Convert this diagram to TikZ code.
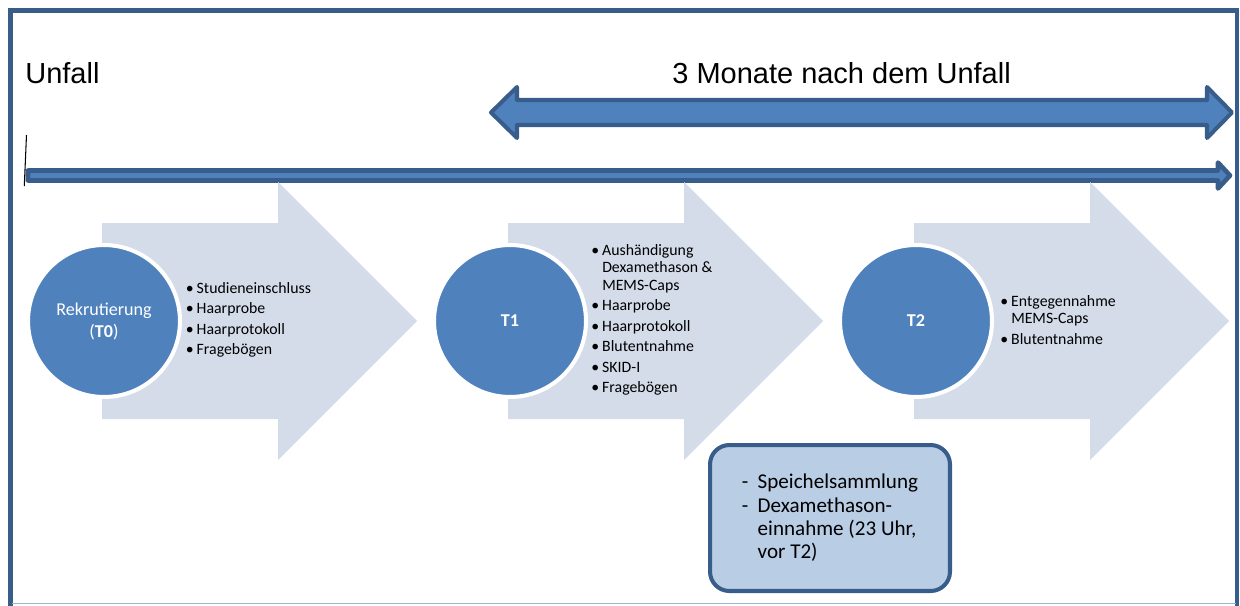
\documentclass[tikz,border=0pt]{standalone}
\usepackage{fontspec}
\setmainfont{Carlito}
\newfontfamily\arialfont{Liberation Sans}
\usepackage{xcolor}
\usepackage{tikz}
\usetikzlibrary{positioning}
\definecolor{mblue}{RGB}{79, 129, 189}
\definecolor{mdark}{RGB}{56, 93, 138}
\definecolor{mlight}{RGB}{212, 220, 234}
\definecolor{mbox}{RGB}{185, 205, 229}
\definecolor{mline}{RGB}{149, 179, 215}
\newcommand{\bitem}{\makebox[6.2pt][l]{\textbullet}}
\newcommand{\bcont}{\hspace*{6.2pt}}
\newcommand{\ndash}{\makebox[9pt][l]{-}}
\newcommand{\nindent}{\hspace*{9pt}}

\begin{document}
\begin{tikzpicture}[
      x=0.02cm, y=-0.02cm,
      headline/.style={font=\arialfont\fontsize{16.5}{20}\selectfont,
                       anchor=base west, inner sep=0pt},
      lightarr/.style={fill=mlight},
      bigarr/.style={draw=mdark, fill=mblue, line width=2.3pt, line join=round},
      timearr/.style={draw=mdark, fill=mblue, line width=2.6pt, line join=round},
      stage/.style={circle, fill=mblue, draw=white, line width=2.3pt,
                    minimum size=3.04cm, inner sep=0pt, text=white,
                    align=center, font=\fontsize{10.3}{12.5}\selectfont},
      items/.style={anchor=west, inner sep=0pt, align=left,
                    font=\fontsize{9}{9.9}\selectfont},
      notebox/.style={draw=mdark, fill=mbox, line width=2.3pt,
                      rounded corners=11pt, minimum width=4.8cm,
                      minimum height=2.92cm, align=left,
                      font=\fontsize{12}{13.3}\selectfont},
    ]
      \useasboundingbox (0,0) rectangle (1240,605);
      \draw[mdark, line width=2.5pt] (10.5,606) -- (10.5,10.5) -- (1237,10.5) -- (1237,606);
      \draw[mline, line width=0.8pt] (12,603.5) -- (1236,603.5);

      \node[headline] (unfall) at (25,83)  {Unfall};
      \node[headline] (monate) at (672,83) {3 Monate nach dem Unfall};

      \draw[bigarr] (491,112.5) -- (517,87) -- (517,100) -- (1207,100) -- (1207,87)
                    -- (1232,112.5) -- (1207,138) -- (1207,125) -- (517,125)
                    -- (517,138) -- cycle;
      \draw[timearr] (28,170.5) -- (1218,170.5) -- (1218,162.5) -- (1230,175.5)
                     -- (1218,188.5) -- (1218,180.5) -- (28,180.5) -- cycle;
      \draw[black, line width=0.6pt] (26.5,135) -- (24.3,186);

      \foreach \dx in {0,406,812}
        \fill[lightarr] (102+\dx,223) -- (278+\dx,223) -- (278+\dx,182) -- (417+\dx,321)
                        -- (278+\dx,460) -- (278+\dx,419) -- (102+\dx,419) -- cycle;

      \node[stage] (t0) at (104,321) {Rekrutierung\\(\textbf{T0})};
      \node[stage, font=\bfseries\fontsize{10.3}{12.5}\selectfont] (t1) at (510,321) {T1};
      \node[stage, font=\bfseries\fontsize{10.3}{12.5}\selectfont] (t2) at (916,321) {T2};

      \node[items] (l0) at (185.5,320) {\bitem Studieneinschluss\\[1.8pt]\bitem Haarprobe\\[1.8pt]
                                        \bitem Haarprotokoll\\[1.8pt]\bitem Fragebögen};
      \node[items] (l1) at (591,320) {\bitem Aushändigung\\\bcont Dexamethason \&\\\bcont MEMS-Caps\\[1.8pt]
                                      \bitem Haarprobe\\[1.8pt]\bitem Haarprotokoll\\[1.8pt]
                                      \bitem Blutentnahme\\[1.8pt]\bitem SKID-I\\[1.8pt]\bitem Fragebögen};
      \node[items] (l2) at (1000,320) {\bitem Entgegennahme\\\bcont MEMS-Caps\\[1.8pt]\bitem Blutentnahme};

      \node[notebox] (note) at (830,518) {\ndash Speichelsammlung\\\ndash Dexamethason-\\
                                          \nindent einnahme (23 Uhr,\\\nindent vor T2)};
    \end{tikzpicture}
\end{document}
